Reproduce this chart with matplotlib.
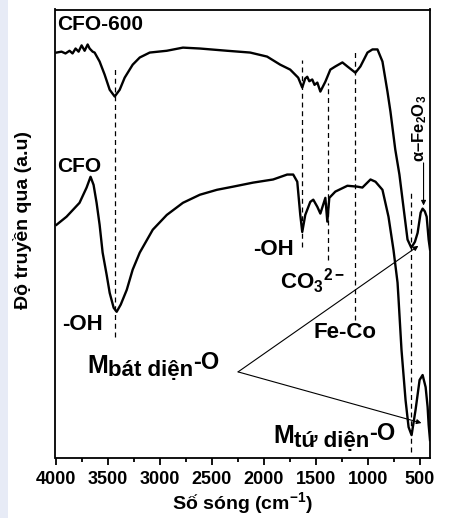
import matplotlib
matplotlib.use("Agg")
import matplotlib.pyplot as plt
import matplotlib.transforms as mtransforms
from matplotlib.patches import Rectangle

plt.rcParams["font.family"] = ["Liberation Sans", "DejaVu Sans"]
plt.rcParams["font.weight"] = "bold"
plt.rcParams["mathtext.fontset"] = "custom"
plt.rcParams["mathtext.rm"] = "Liberation Sans:bold"
plt.rcParams["mathtext.it"] = "Liberation Sans:bold"
plt.rcParams["mathtext.bf"] = "Liberation Sans:bold"

# FTIR spectra: wavenumber (cm-1) and transmittance (a.u.)
wn_cfo600 = [3990, 3942, 3904, 3865, 3836, 3807, 3778, 3749, 3720, 3691, 3672,
             3643, 3624, 3576, 3528, 3479, 3431,
             3383, 3335, 3258, 3190, 3094, 2930, 2775, 2612, 2351, 2129, 1966,
             1840, 1744, 1667, 1628, 1600, 1580, 1560, 1532, 1510, 1483, 1454,
             1406, 1358, 1310,
             1242, 1194, 1117, 1069, 1001, 953, 905, 857, 809, 780, 734, 694,
             664, 616, 580, 545, 519, 490, 471, 450, 432, 413, 400]
t_cfo600 = [90.4, 90.6, 90.2, 90.8, 90.2, 91.3, 90.6, 92.0, 90.8, 92.2, 91.3,
            90.6, 90.4, 88.4, 85.5, 82.1, 80.6,
            82.1, 84.8, 87.7, 89.3, 90.4, 90.8, 91.5, 91.3, 90.8, 90.4, 89.5,
            87.7, 86.6, 84.8, 82.6, 84.6, 85.0, 84.0, 84.4, 83.2, 83.7, 81.7,
            83.9, 86.6, 87.3,
            88.2, 87.3, 85.9, 87.3, 90.4, 91.1, 91.1, 88.4, 81.7, 77.2, 68.8, 63.2,
            57.6, 48.7, 46.9, 48.2, 50.2, 54.7, 55.6, 55.0, 53.8, 48.7, 46.5]

wn_cfo = [3990, 3894, 3769, 3701, 3663, 3634, 3605, 3576, 3547, 3508, 3479,
          3441, 3412, 3373, 3315, 3258, 3190, 3065, 2930, 2775, 2612, 2448,
          2293, 2101, 1908, 1773, 1715, 1676, 1647, 1628, 1599, 1551, 1522,
          1483, 1454, 1406, 1387, 1368, 1310, 1194, 1098, 1050, 972, 924, 857,
          799, 751, 712, 702, 674, 635, 606, 577, 539, 500, 471, 442, 423, 413, 400]
t_cfo = [52.0, 53.8, 56.9, 60.3, 62.7, 60.9, 56.9, 52.0, 45.8, 40.8, 36.8,
         33.5, 32.6, 34.2, 37.5, 42.0, 45.8, 50.9, 54.2, 56.9, 58.7, 59.8,
         60.5, 61.4, 62.1, 63.2, 63.2, 61.6, 54.2, 50.4, 54.2, 57.1, 57.6,
         56.0, 54.5, 58.0, 52.7, 58.0, 59.4, 60.7, 60.5, 60.3, 62.1, 61.6, 59.8,
         53.8, 46.4, 39.1, 35.3, 24.1, 12.9, 6.9, 5.1, 10.7, 17.4, 18.5, 15.8, 11.4, 7.4, 4.0]

# Band guides: position (cm-1), lower and upper extent (a.u.)
band_wn = [3430, 1630, 1385, 1120, 580]
band_lo = [27.0, 47.1, 44.2, 30.8, 1.3]
band_hi = [87.3, 88.8, 83.7, 90.6, 59.4]

x_ticks = [4000, 3500, 3000, 2500, 2000, 1500, 1000, 500]

fig = plt.figure(figsize=(4.52, 5.18), dpi=100)
fig.patches.append(Rectangle((0, 0), 8 / 452, 1, transform=fig.transFigure,
                             facecolor="#e7ebf6", edgecolor="none", zorder=0))
ax = fig.add_axes([55.5 / 452, 60 / 518, 374.5 / 452, 448.5 / 518])

ax.plot(wn_cfo600, t_cfo600, color="black", lw=1.7, solid_joinstyle="round")
ax.plot(wn_cfo, t_cfo, color="black", lw=1.7, solid_joinstyle="round")

for w, lo, hi in zip(band_wn, band_lo, band_hi):
    ax.plot([w, w], [lo, hi], color="black", lw=0.9, linestyle=(0, (4, 3)))

ax.set_xlim(4000, 400)
ax.set_ylim(0, 100)
ax.set_xticks(x_ticks)
ax.set_xticks(range(3750, 399, -500), minor=True)
ax.set_yticks([])
ax.tick_params(axis="x", which="major", direction="out", length=5, width=1.3,
               labelsize=13, pad=4)
ax.tick_params(axis="x", which="minor", direction="out", length=3, width=1.3)
for s in ax.spines.values():
    s.set_linewidth(1.3)

ax.set_xlabel("Số sóng (cm$^{-1}$)", fontsize=14, fontweight="bold", labelpad=2)
ax.set_ylabel("Độ truyền qua (a.u)", fontsize=14, fontweight="bold")
ax.yaxis.set_label_coords(-0.062, 0.53)

fs = 16
ax.text(3985, 96.7, "CFO-600", fontsize=15, ha="left", va="center")
ax.text(3985, 65.0, "CFO", fontsize=15, ha="left", va="center")
ax.text(3935, 29.7, "-OH", fontsize=fs, ha="left", va="center")
ax.text(2105, 46.4, "-OH", fontsize=fs, ha="left", va="center")
ax.text(1840, 39.5, "CO$_3$$^{2-}$", fontsize=fs, ha="left", va="center")
ax.text(1522, 28.0, "Fe-Co", fontsize=fs, ha="left", va="center")
ax.text(500, 73.5, "\u03b1\u2013Fe$_2$O$_3$", fontsize=12, rotation=90,
        ha="center", va="center")

fig.canvas.draw()
renderer = fig.canvas.get_renderer()


def chain_text(x, y, parts):
    """Draw consecutive text pieces on one line with their own size and shift."""
    dx = 0.0
    for s, size, dy in parts:
        tr = mtransforms.offset_copy(ax.transData, fig=fig, x=dx, y=dy, units="points")
        t = ax.text(x, y, s, fontsize=size, ha="left", va="baseline", transform=tr)
        dx += t.get_window_extent(renderer).width * 72 / fig.dpi


chain_text(3691, 19.0, [("M", 18, 0), ("bát diện", 16, -2.5), ("-O", 17, 2.5)])
chain_text(4000 - (273 - 56) * 9.642, 3.3, [("M", 18, 0), ("tứ diện", 16, -2.5), ("-O", 17, 2.5)])

arrow = dict(arrowstyle="-|>", lw=0.8, color="black", mutation_scale=7,
             shrinkA=0, shrinkB=0)
ax.annotate("", xy=(512, 47.3), xytext=(2245, 19.2), arrowprops=arrow)
ax.annotate("", xy=(482, 7.8), xytext=(2245, 19.2), arrowprops=arrow)
ax.annotate("", xy=(462, 56.3), xytext=(462, 65.8), arrowprops=arrow)

fig.savefig("out.png", dpi=100)
